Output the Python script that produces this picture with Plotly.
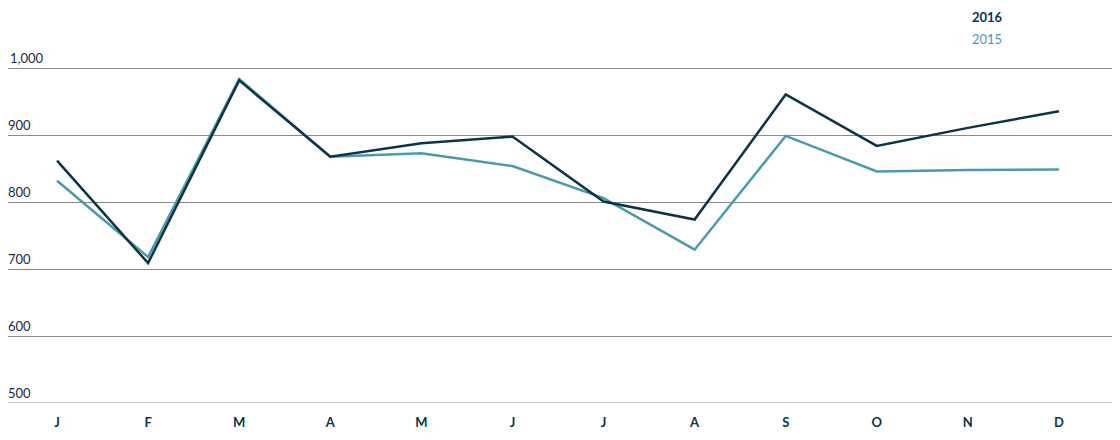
import plotly.graph_objects as go

months = ["J", "F", "M", "A", "M", "J", "J", "A", "S", "O", "N", "D"]
values_2016 = [862, 709, 982, 868, 888, 898, 801, 774, 961, 884, 911, 936]
values_2015 = [832, 718, 984, 868, 873, 854, 806, 729, 899, 846, 848, 849]
y_ticks = [500, 600, 700, 800, 900, 1000]
y_tick_labels = ["500", "600", "700", "800", "900", "1,000"]

x_idx = list(range(len(months)))
dark = "#0c3446"
teal = "#4b9aaa"
font = "Lato"

# page has an 8px body margin; figure is sized/offset to compensate
W, H = 1112, 424
plot_top, plot_bottom = 32, 29
plot_h = H - plot_top - plot_bottom

fig = go.Figure()
fig.add_trace(go.Scatter(x=x_idx, y=values_2015, mode="lines", name="2015",
                         line=dict(color=teal, width=2.5)))
fig.add_trace(go.Scatter(x=x_idx, y=values_2016, mode="lines", name="2016",
                         line=dict(color=dark, width=2.5)))

annotations = []
for v, t in zip(y_ticks, y_tick_labels):
    wide = len(t) > 3
    annotations.append(dict(x=0 if wide else 11.5 / W, xref="paper", y=v, yref="y",
                            text=t, showarrow=False,
                            xanchor="left" if wide else "center",
                            yanchor="middle", yshift=10,
                            font=dict(family=font, size=13, color="#1c2b3a")))


def paper_y(page_px):
    fig_px = page_px - 8
    return (H - plot_bottom - fig_px) / plot_h


annotations.append(dict(x=(987 - 8) / W, xref="paper", y=paper_y(17), yref="paper",
                        text="<b>2016</b>", showarrow=False, xanchor="center",
                        yanchor="middle", font=dict(family=font, size=13, color=dark)))
annotations.append(dict(x=(987 - 8) / W, xref="paper", y=paper_y(39), yref="paper",
                        text="2015", showarrow=False, xanchor="center",
                        yanchor="middle", font=dict(family=font, size=13, color=teal)))

fig.update_layout(
    width=W, height=H,
    margin=dict(l=0, r=0, t=plot_top, b=plot_bottom),
    paper_bgcolor="white", plot_bgcolor="white",
    showlegend=False,
    annotations=annotations,
    xaxis=dict(tickmode="array", tickvals=x_idx, ticktext=months,
               range=[-0.538, 11.67], showgrid=False, zeroline=False,
               showline=False, ticks="", ticklabelstandoff=10,
               tickfont=dict(family=font, size=13, color=dark, weight="bold")),
    yaxis=dict(tickmode="array", tickvals=y_ticks, range=[500, 1042.3],
               showticklabels=False, showgrid=True, gridcolor="#8a8a8a",
               gridwidth=1, zeroline=False, showline=False),
)
fig.add_shape(type="line", xref="paper", yref="y", x0=0, x1=1, y0=500, y1=500,
              line=dict(color="#8a8a8a", width=1), layer="below")

fig.write_html("out.html")
